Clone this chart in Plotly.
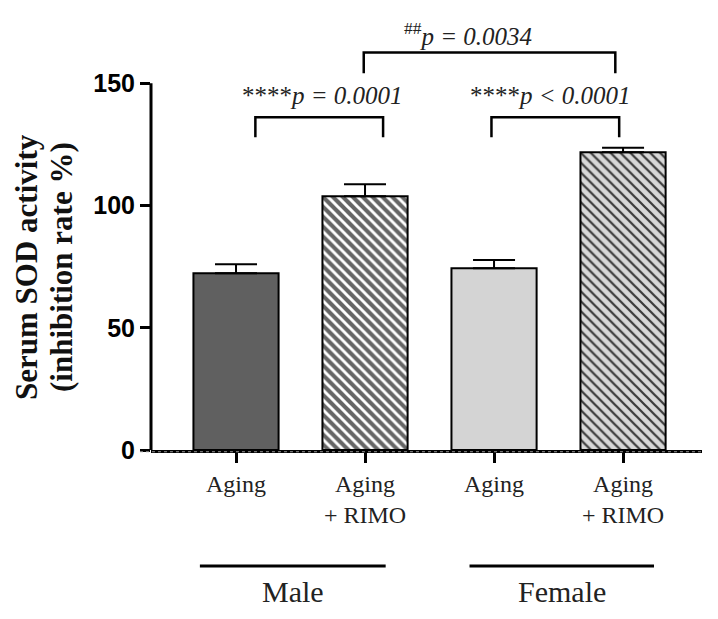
import plotly.graph_objects as go

# group means and upper SEM (inhibition rate %)
groups = ["Aging", "Aging<br>+ RIMO", "Aging", "Aging<br>+ RIMO"]
means = [72.3, 103.8, 74.4, 121.8]
sem = [3.7, 4.9, 3.3, 1.8]
sexes = ["Male", "Female"]
sex_spans = [(-0.28, 1.16), (1.81, 3.24)]

# significance brackets: (x left, x right, bracket y, leg bottom y, label, label x, label y)
brackets = [
    (0.15, 1.14, 136.1, 127.9, "****<i>p = 0.0001</i>", 0.67, 145.0),
    (1.98, 2.97, 136.1, 127.9, "****<i>p < 0.0001</i>", 2.44, 145.0),
    (0.99, 2.94, 162.6, 154.1, "<sup>##</sup><i>p = 0.0034</i>", 1.80, 170.3),
]

bar_colors = ["#606060", "#666666", "#d4d4d4", "#d8d8d8"]
hatch = ["", "\\", "", "\\"]
hatch_fg = ["#ffffff", "#ffffff", "#3a3a3a", "#3a3a3a"]
hatch_solid = [0.42, 0.42, 0.42, 0.32]

serif = "Liberation Serif"

xs = list(range(len(means)))

fig = go.Figure()
for i in xs:
    fig.add_trace(go.Bar(
        x=[xs[i]], y=[means[i]], width=0.66,
        marker=dict(
            color=bar_colors[i],
            line=dict(color="black", width=2),
            pattern=dict(shape=hatch[i], fgcolor=hatch_fg[i], bgcolor=bar_colors[i],
                         size=7, solidity=hatch_solid[i], fillmode="replace"),
        ),
        error_y=dict(type="data", symmetric=False, array=[sem[i]], arrayminus=[0],
                     color="black", thickness=2, width=21),
        showlegend=False,
    ))

shapes = []
annotations = []

# y axis line only up to 150, like the prism style
shapes.append(dict(type="line", xref="paper", yref="y", x0=0, x1=0, y0=0, y1=150,
                   line=dict(color="black", width=3)))
# faint dotted line under the baseline
shapes.append(dict(type="line", xref="paper", yref="paper", x0=-0.02, x1=1, y0=-0.004, y1=-0.004,
                   line=dict(color="#9a9a9a", width=1, dash="dot")))

for x0, x1, yb, yl, txt, tx, ty in brackets:
    shapes.append(dict(type="path", xref="x", yref="y",
                       path=f"M {x0},{yl} L {x0},{yb} L {x1},{yb} L {x1},{yl}",
                       line=dict(color="black", width=2.5)))
    annotations.append(dict(x=tx, y=ty, xref="x", yref="y", text=txt, showarrow=False,
                            xanchor="center", yanchor="middle",
                            font=dict(family=serif, size=25, color="#222222")))

for name, (a, b) in zip(sexes, sex_spans):
    shapes.append(dict(type="line", xref="x", yref="paper", x0=a, x1=b, y0=-0.2636, y1=-0.2636,
                       line=dict(color="black", width=3)))
    annotations.append(dict(x=(a + b) / 2, y=-0.3205, xref="x", yref="paper", text=name,
                            showarrow=False, xanchor="center", yanchor="middle",
                            font=dict(family=serif, size=30, color="#222222")))

# two-line y axis title, placed by hand for tight spacing
for txt, px in [("Serum SOD activity", -0.225), ("(inhibition rate %)", -0.1615)]:
    annotations.append(dict(x=px, y=0.416, xref="paper", yref="paper", text=txt, textangle=-90,
                            showarrow=False, xanchor="center", yanchor="middle",
                            font=dict(family=serif, size=31, color="#111111", weight="bold")))

# page body adds an 8px margin, so the figure is a bit smaller and shifted
fig.update_layout(
    width=702, height=603,
    margin=dict(l=143, r=8, t=2, b=161),
    plot_bgcolor="white", paper_bgcolor="white",
    shapes=shapes, annotations=annotations,
    xaxis=dict(range=[-0.659, 3.612], tickvals=xs, ticktext=groups,
               showline=True, linecolor="black", linewidth=3,
               ticks="outside", ticklen=10, tickwidth=3, tickcolor="black",
               showgrid=False, zeroline=False,
               tickfont=dict(family=serif, size=24, color="#222222")),
    yaxis=dict(range=[0, 180], tickvals=[0, 50, 100, 150],
               showline=False, ticks="outside", ticklen=10, tickwidth=3, tickcolor="black",
               showgrid=False, zeroline=False,
               tickfont=dict(family="Liberation Sans", size=25,
                             color="black", weight="bold")),
)

fig.write_html("out.html")
